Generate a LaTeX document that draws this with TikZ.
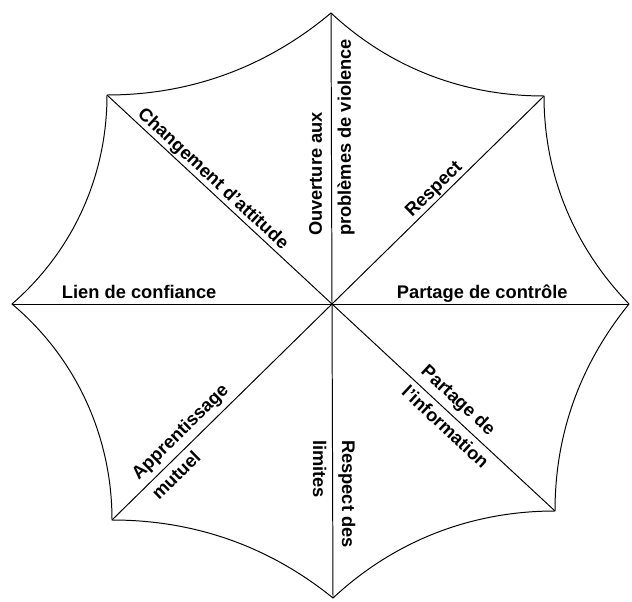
\documentclass[tikz,border=0pt]{standalone}
\usepackage{fontspec}
\setmainfont{Liberation Sans}
\usetikzlibrary{calc}

\begin{document}
\begin{tikzpicture}[
    x=0.025cm, y=0.025cm,
    every node/.style={font=\bfseries\fontsize{13}{20.5}\selectfont},
    spoke/.style={line width=0.7pt},
    rim/.style={line width=0.7pt, looseness=0.9},
    caption/.style={inner sep=1.2pt, text depth=0.25em, align=left}
]
    \useasboundingbox (0,0) rectangle (632,601);

    % Centre and tips
    \coordinate (c) at (332,297);
    \coordinate (n) at (331,588);
    \coordinate (ne) at (544,505);
    \coordinate (e) at (629,297);
    \coordinate (se) at (555,90);
    \coordinate (s) at (333,3);
    \coordinate (sw) at (112,81);
    \coordinate (w) at (12,297);
    \coordinate (nw) at (107,506);

    % Spokes
    \draw[spoke] (c) -- (n);
    \draw[spoke] (c) -- (ne);
    \draw[spoke] (c) -- (e);
    \draw[spoke] (c) -- (se);
    \draw[spoke] (c) -- (s);
    \draw[spoke] (c) -- (sw);
    \draw[spoke] (c) -- (w);
    \draw[spoke] (c) -- (nw);

    % Rim
    \draw[rim] (nw) to[out=0, in=220] (n)
        to[out=-43, in=180] (ne)
        to[out=-90, in=134] (e)
        to[out=231, in=90] (se)
        to[out=180, in=43] (s)
        to[out=141, in=0] (sw)
        to[out=90, in=-40] (w)
        to[out=41, in=-90] (nw);

    % Horizontal labels
    \node[caption, anchor=south west] (trust) at ($(c)!0.85!(w)$) {Lien de confiance};
    \node[caption, anchor=south west] (control) at ($(c)!0.212!(e)$) {Partage de contrôle};

    % Sloped labels
    \node[caption, anchor=south west, rotate=-42.9] (attitude) at ($(c)!0.89!(nw)$) {Changement d'attitude};
    \node[caption, anchor=south west, rotate=44.5] (respect) at ($(c)!0.39!(ne)$) {Respect};
    \node[caption, anchor=west, rotate=90] (openness) at ($(c)!0.227!(n)$) {Ouverture aux\\problèmes de violence};
    \node[caption, anchor=west, rotate=-42.9] (sharing) at ($(c)!0.36!(se)$) {Partage de\\l'information};
    \node[caption, anchor=west, rotate=-90] (limits) at ($(c)!0.456!(s)$) {Respect des\\limites};
    \node[caption, anchor=west, rotate=44.5] (learning) at ($(c)!0.854!(sw)$) {Apprentissage\\mutuel};
\end{tikzpicture}
\end{document}
